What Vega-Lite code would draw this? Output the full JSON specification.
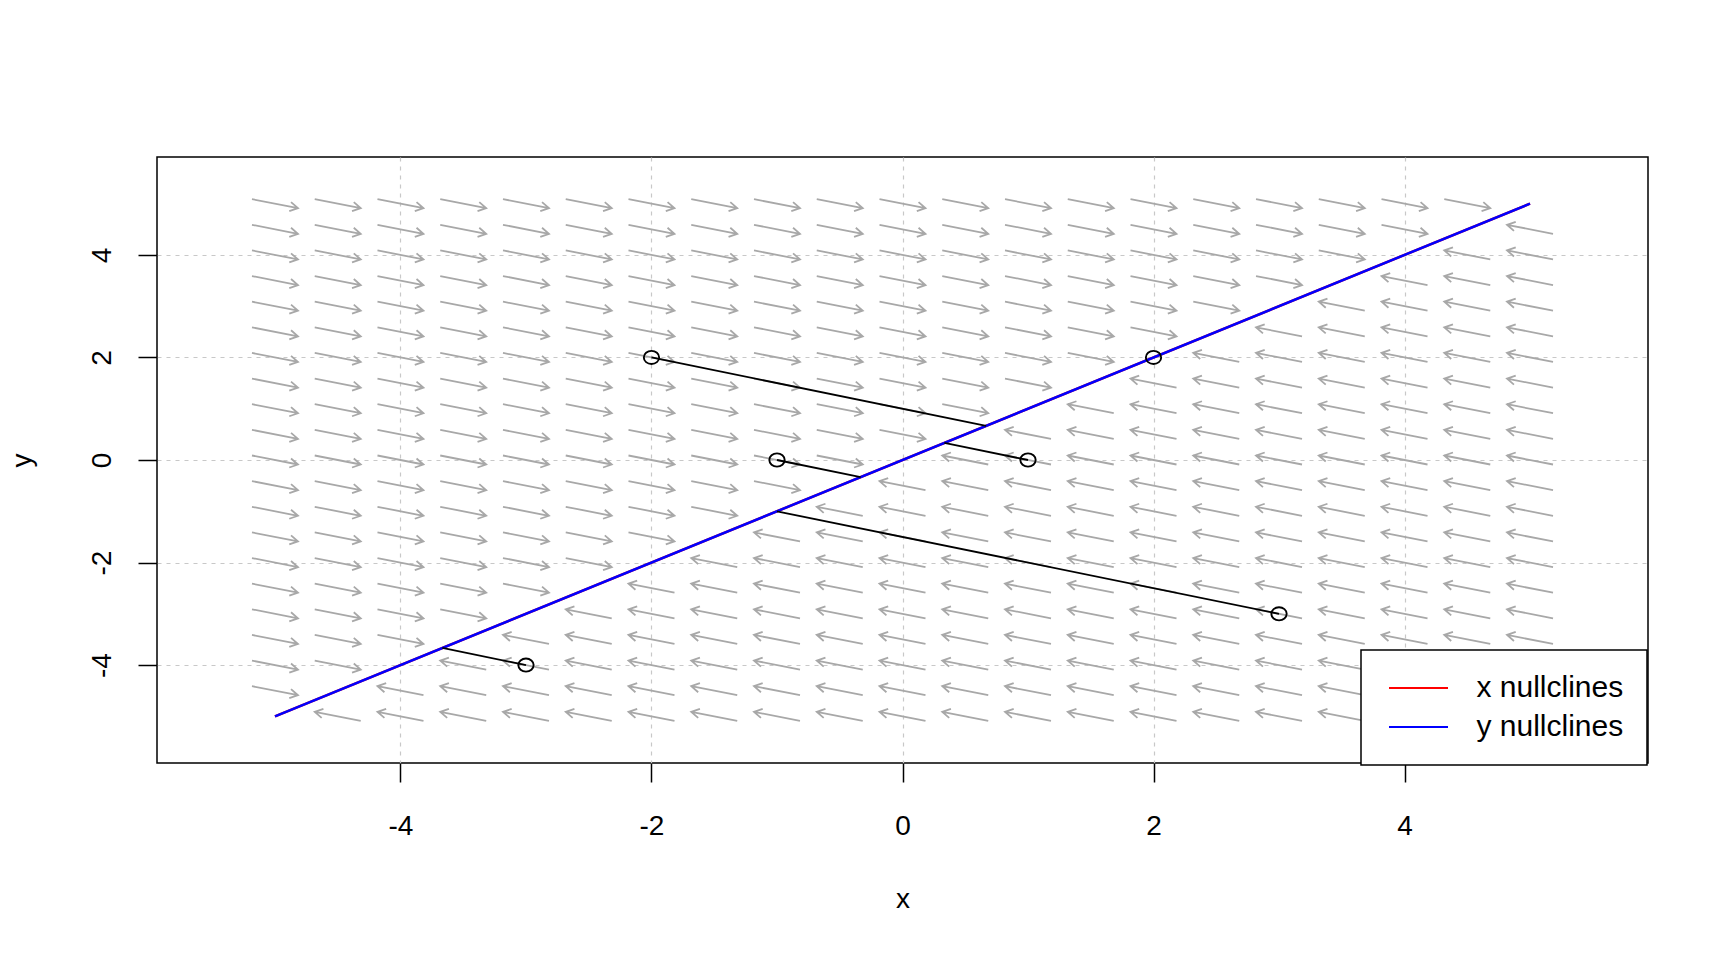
{
"$schema": "https://vega.github.io/schema/vega-lite/v6.json",
"width": 1491,
"height": 606,
"autosize": {"type": "none"},
"padding": {"left": 157, "top": 157, "right": 80, "bottom": 197},
"background": "white",
"config": {
  "view": {"stroke": "black", "strokeWidth": 1.5},
  "font": "Liberation Sans",
  "axis": {"domain": false, "tickColor": "black", "tickSize": 19, "tickWidth": 1.5, "labelFont": "Liberation Sans", "labelFontSize": 28, "labelColor": "black", "titleFont": "Liberation Sans", "titleFontSize": 28, "titleFontWeight": "normal", "titleColor": "black", "grid": true, "gridColor": "#c8c8c8", "gridDash": [4, 5], "gridWidth": 1.2, "labelFlush": false, "labelOverlap": false, "zindex": 0},
  "legend": {"strokeWidth": 1.5}
},
"datasets": {
  "field": [
{"x":-5,"y":5,"d":"r"},{"x":-4.5,"y":5,"d":"r"},{"x":-4,"y":5,"d":"r"},{"x":-3.5,"y":5,"d":"r"},{"x":-3,"y":5,"d":"r"},{"x":-2.5,"y":5,"d":"r"},{"x":-2,"y":5,"d":"r"},{"x":-1.5,"y":5,"d":"r"},{"x":-1,"y":5,"d":"r"},{"x":-0.5,"y":5,"d":"r"},{"x":0,"y":5,"d":"r"},{"x":0.5,"y":5,"d":"r"},{"x":1,"y":5,"d":"r"},{"x":1.5,"y":5,"d":"r"},{"x":2,"y":5,"d":"r"},{"x":2.5,"y":5,"d":"r"},{"x":3,"y":5,"d":"r"},{"x":3.5,"y":5,"d":"r"},{"x":4,"y":5,"d":"r"},{"x":4.5,"y":5,"d":"r"},
{"x":-5,"y":4.5,"d":"r"},{"x":-4.5,"y":4.5,"d":"r"},{"x":-4,"y":4.5,"d":"r"},{"x":-3.5,"y":4.5,"d":"r"},{"x":-3,"y":4.5,"d":"r"},{"x":-2.5,"y":4.5,"d":"r"},{"x":-2,"y":4.5,"d":"r"},{"x":-1.5,"y":4.5,"d":"r"},{"x":-1,"y":4.5,"d":"r"},{"x":-0.5,"y":4.5,"d":"r"},{"x":0,"y":4.5,"d":"r"},{"x":0.5,"y":4.5,"d":"r"},{"x":1,"y":4.5,"d":"r"},{"x":1.5,"y":4.5,"d":"r"},{"x":2,"y":4.5,"d":"r"},{"x":2.5,"y":4.5,"d":"r"},{"x":3,"y":4.5,"d":"r"},{"x":3.5,"y":4.5,"d":"r"},{"x":4,"y":4.5,"d":"r"},{"x":5,"y":4.5,"d":"l"},
{"x":-5,"y":4,"d":"r"},{"x":-4.5,"y":4,"d":"r"},{"x":-4,"y":4,"d":"r"},{"x":-3.5,"y":4,"d":"r"},{"x":-3,"y":4,"d":"r"},{"x":-2.5,"y":4,"d":"r"},{"x":-2,"y":4,"d":"r"},{"x":-1.5,"y":4,"d":"r"},{"x":-1,"y":4,"d":"r"},{"x":-0.5,"y":4,"d":"r"},{"x":0,"y":4,"d":"r"},{"x":0.5,"y":4,"d":"r"},{"x":1,"y":4,"d":"r"},{"x":1.5,"y":4,"d":"r"},{"x":2,"y":4,"d":"r"},{"x":2.5,"y":4,"d":"r"},{"x":3,"y":4,"d":"r"},{"x":3.5,"y":4,"d":"r"},{"x":4.5,"y":4,"d":"l"},{"x":5,"y":4,"d":"l"},
{"x":-5,"y":3.5,"d":"r"},{"x":-4.5,"y":3.5,"d":"r"},{"x":-4,"y":3.5,"d":"r"},{"x":-3.5,"y":3.5,"d":"r"},{"x":-3,"y":3.5,"d":"r"},{"x":-2.5,"y":3.5,"d":"r"},{"x":-2,"y":3.5,"d":"r"},{"x":-1.5,"y":3.5,"d":"r"},{"x":-1,"y":3.5,"d":"r"},{"x":-0.5,"y":3.5,"d":"r"},{"x":0,"y":3.5,"d":"r"},{"x":0.5,"y":3.5,"d":"r"},{"x":1,"y":3.5,"d":"r"},{"x":1.5,"y":3.5,"d":"r"},{"x":2,"y":3.5,"d":"r"},{"x":2.5,"y":3.5,"d":"r"},{"x":3,"y":3.5,"d":"r"},{"x":4,"y":3.5,"d":"l"},{"x":4.5,"y":3.5,"d":"l"},{"x":5,"y":3.5,"d":"l"},
{"x":-5,"y":3,"d":"r"},{"x":-4.5,"y":3,"d":"r"},{"x":-4,"y":3,"d":"r"},{"x":-3.5,"y":3,"d":"r"},{"x":-3,"y":3,"d":"r"},{"x":-2.5,"y":3,"d":"r"},{"x":-2,"y":3,"d":"r"},{"x":-1.5,"y":3,"d":"r"},{"x":-1,"y":3,"d":"r"},{"x":-0.5,"y":3,"d":"r"},{"x":0,"y":3,"d":"r"},{"x":0.5,"y":3,"d":"r"},{"x":1,"y":3,"d":"r"},{"x":1.5,"y":3,"d":"r"},{"x":2,"y":3,"d":"r"},{"x":2.5,"y":3,"d":"r"},{"x":3.5,"y":3,"d":"l"},{"x":4,"y":3,"d":"l"},{"x":4.5,"y":3,"d":"l"},{"x":5,"y":3,"d":"l"},
{"x":-5,"y":2.5,"d":"r"},{"x":-4.5,"y":2.5,"d":"r"},{"x":-4,"y":2.5,"d":"r"},{"x":-3.5,"y":2.5,"d":"r"},{"x":-3,"y":2.5,"d":"r"},{"x":-2.5,"y":2.5,"d":"r"},{"x":-2,"y":2.5,"d":"r"},{"x":-1.5,"y":2.5,"d":"r"},{"x":-1,"y":2.5,"d":"r"},{"x":-0.5,"y":2.5,"d":"r"},{"x":0,"y":2.5,"d":"r"},{"x":0.5,"y":2.5,"d":"r"},{"x":1,"y":2.5,"d":"r"},{"x":1.5,"y":2.5,"d":"r"},{"x":2,"y":2.5,"d":"r"},{"x":3,"y":2.5,"d":"l"},{"x":3.5,"y":2.5,"d":"l"},{"x":4,"y":2.5,"d":"l"},{"x":4.5,"y":2.5,"d":"l"},{"x":5,"y":2.5,"d":"l"},
{"x":-5,"y":2,"d":"r"},{"x":-4.5,"y":2,"d":"r"},{"x":-4,"y":2,"d":"r"},{"x":-3.5,"y":2,"d":"r"},{"x":-3,"y":2,"d":"r"},{"x":-2.5,"y":2,"d":"r"},{"x":-2,"y":2,"d":"r"},{"x":-1.5,"y":2,"d":"r"},{"x":-1,"y":2,"d":"r"},{"x":-0.5,"y":2,"d":"r"},{"x":0,"y":2,"d":"r"},{"x":0.5,"y":2,"d":"r"},{"x":1,"y":2,"d":"r"},{"x":1.5,"y":2,"d":"r"},{"x":2.5,"y":2,"d":"l"},{"x":3,"y":2,"d":"l"},{"x":3.5,"y":2,"d":"l"},{"x":4,"y":2,"d":"l"},{"x":4.5,"y":2,"d":"l"},{"x":5,"y":2,"d":"l"},
{"x":-5,"y":1.5,"d":"r"},{"x":-4.5,"y":1.5,"d":"r"},{"x":-4,"y":1.5,"d":"r"},{"x":-3.5,"y":1.5,"d":"r"},{"x":-3,"y":1.5,"d":"r"},{"x":-2.5,"y":1.5,"d":"r"},{"x":-2,"y":1.5,"d":"r"},{"x":-1.5,"y":1.5,"d":"r"},{"x":-1,"y":1.5,"d":"r"},{"x":-0.5,"y":1.5,"d":"r"},{"x":0,"y":1.5,"d":"r"},{"x":0.5,"y":1.5,"d":"r"},{"x":1,"y":1.5,"d":"r"},{"x":2,"y":1.5,"d":"l"},{"x":2.5,"y":1.5,"d":"l"},{"x":3,"y":1.5,"d":"l"},{"x":3.5,"y":1.5,"d":"l"},{"x":4,"y":1.5,"d":"l"},{"x":4.5,"y":1.5,"d":"l"},{"x":5,"y":1.5,"d":"l"},
{"x":-5,"y":1,"d":"r"},{"x":-4.5,"y":1,"d":"r"},{"x":-4,"y":1,"d":"r"},{"x":-3.5,"y":1,"d":"r"},{"x":-3,"y":1,"d":"r"},{"x":-2.5,"y":1,"d":"r"},{"x":-2,"y":1,"d":"r"},{"x":-1.5,"y":1,"d":"r"},{"x":-1,"y":1,"d":"r"},{"x":-0.5,"y":1,"d":"r"},{"x":0,"y":1,"d":"r"},{"x":0.5,"y":1,"d":"r"},{"x":1.5,"y":1,"d":"l"},{"x":2,"y":1,"d":"l"},{"x":2.5,"y":1,"d":"l"},{"x":3,"y":1,"d":"l"},{"x":3.5,"y":1,"d":"l"},{"x":4,"y":1,"d":"l"},{"x":4.5,"y":1,"d":"l"},{"x":5,"y":1,"d":"l"},
{"x":-5,"y":0.5,"d":"r"},{"x":-4.5,"y":0.5,"d":"r"},{"x":-4,"y":0.5,"d":"r"},{"x":-3.5,"y":0.5,"d":"r"},{"x":-3,"y":0.5,"d":"r"},{"x":-2.5,"y":0.5,"d":"r"},{"x":-2,"y":0.5,"d":"r"},{"x":-1.5,"y":0.5,"d":"r"},{"x":-1,"y":0.5,"d":"r"},{"x":-0.5,"y":0.5,"d":"r"},{"x":0,"y":0.5,"d":"r"},{"x":1,"y":0.5,"d":"l"},{"x":1.5,"y":0.5,"d":"l"},{"x":2,"y":0.5,"d":"l"},{"x":2.5,"y":0.5,"d":"l"},{"x":3,"y":0.5,"d":"l"},{"x":3.5,"y":0.5,"d":"l"},{"x":4,"y":0.5,"d":"l"},{"x":4.5,"y":0.5,"d":"l"},{"x":5,"y":0.5,"d":"l"},
{"x":-5,"y":0,"d":"r"},{"x":-4.5,"y":0,"d":"r"},{"x":-4,"y":0,"d":"r"},{"x":-3.5,"y":0,"d":"r"},{"x":-3,"y":0,"d":"r"},{"x":-2.5,"y":0,"d":"r"},{"x":-2,"y":0,"d":"r"},{"x":-1.5,"y":0,"d":"r"},{"x":-1,"y":0,"d":"r"},{"x":-0.5,"y":0,"d":"r"},{"x":0.5,"y":0,"d":"l"},{"x":1,"y":0,"d":"l"},{"x":1.5,"y":0,"d":"l"},{"x":2,"y":0,"d":"l"},{"x":2.5,"y":0,"d":"l"},{"x":3,"y":0,"d":"l"},{"x":3.5,"y":0,"d":"l"},{"x":4,"y":0,"d":"l"},{"x":4.5,"y":0,"d":"l"},{"x":5,"y":0,"d":"l"},
{"x":-5,"y":-0.5,"d":"r"},{"x":-4.5,"y":-0.5,"d":"r"},{"x":-4,"y":-0.5,"d":"r"},{"x":-3.5,"y":-0.5,"d":"r"},{"x":-3,"y":-0.5,"d":"r"},{"x":-2.5,"y":-0.5,"d":"r"},{"x":-2,"y":-0.5,"d":"r"},{"x":-1.5,"y":-0.5,"d":"r"},{"x":-1,"y":-0.5,"d":"r"},{"x":0,"y":-0.5,"d":"l"},{"x":0.5,"y":-0.5,"d":"l"},{"x":1,"y":-0.5,"d":"l"},{"x":1.5,"y":-0.5,"d":"l"},{"x":2,"y":-0.5,"d":"l"},{"x":2.5,"y":-0.5,"d":"l"},{"x":3,"y":-0.5,"d":"l"},{"x":3.5,"y":-0.5,"d":"l"},{"x":4,"y":-0.5,"d":"l"},{"x":4.5,"y":-0.5,"d":"l"},{"x":5,"y":-0.5,"d":"l"},
{"x":-5,"y":-1,"d":"r"},{"x":-4.5,"y":-1,"d":"r"},{"x":-4,"y":-1,"d":"r"},{"x":-3.5,"y":-1,"d":"r"},{"x":-3,"y":-1,"d":"r"},{"x":-2.5,"y":-1,"d":"r"},{"x":-2,"y":-1,"d":"r"},{"x":-1.5,"y":-1,"d":"r"},{"x":-0.5,"y":-1,"d":"l"},{"x":0,"y":-1,"d":"l"},{"x":0.5,"y":-1,"d":"l"},{"x":1,"y":-1,"d":"l"},{"x":1.5,"y":-1,"d":"l"},{"x":2,"y":-1,"d":"l"},{"x":2.5,"y":-1,"d":"l"},{"x":3,"y":-1,"d":"l"},{"x":3.5,"y":-1,"d":"l"},{"x":4,"y":-1,"d":"l"},{"x":4.5,"y":-1,"d":"l"},{"x":5,"y":-1,"d":"l"},
{"x":-5,"y":-1.5,"d":"r"},{"x":-4.5,"y":-1.5,"d":"r"},{"x":-4,"y":-1.5,"d":"r"},{"x":-3.5,"y":-1.5,"d":"r"},{"x":-3,"y":-1.5,"d":"r"},{"x":-2.5,"y":-1.5,"d":"r"},{"x":-2,"y":-1.5,"d":"r"},{"x":-1,"y":-1.5,"d":"l"},{"x":-0.5,"y":-1.5,"d":"l"},{"x":0,"y":-1.5,"d":"l"},{"x":0.5,"y":-1.5,"d":"l"},{"x":1,"y":-1.5,"d":"l"},{"x":1.5,"y":-1.5,"d":"l"},{"x":2,"y":-1.5,"d":"l"},{"x":2.5,"y":-1.5,"d":"l"},{"x":3,"y":-1.5,"d":"l"},{"x":3.5,"y":-1.5,"d":"l"},{"x":4,"y":-1.5,"d":"l"},{"x":4.5,"y":-1.5,"d":"l"},{"x":5,"y":-1.5,"d":"l"},
{"x":-5,"y":-2,"d":"r"},{"x":-4.5,"y":-2,"d":"r"},{"x":-4,"y":-2,"d":"r"},{"x":-3.5,"y":-2,"d":"r"},{"x":-3,"y":-2,"d":"r"},{"x":-2.5,"y":-2,"d":"r"},{"x":-1.5,"y":-2,"d":"l"},{"x":-1,"y":-2,"d":"l"},{"x":-0.5,"y":-2,"d":"l"},{"x":0,"y":-2,"d":"l"},{"x":0.5,"y":-2,"d":"l"},{"x":1,"y":-2,"d":"l"},{"x":1.5,"y":-2,"d":"l"},{"x":2,"y":-2,"d":"l"},{"x":2.5,"y":-2,"d":"l"},{"x":3,"y":-2,"d":"l"},{"x":3.5,"y":-2,"d":"l"},{"x":4,"y":-2,"d":"l"},{"x":4.5,"y":-2,"d":"l"},{"x":5,"y":-2,"d":"l"},
{"x":-5,"y":-2.5,"d":"r"},{"x":-4.5,"y":-2.5,"d":"r"},{"x":-4,"y":-2.5,"d":"r"},{"x":-3.5,"y":-2.5,"d":"r"},{"x":-3,"y":-2.5,"d":"r"},{"x":-2,"y":-2.5,"d":"l"},{"x":-1.5,"y":-2.5,"d":"l"},{"x":-1,"y":-2.5,"d":"l"},{"x":-0.5,"y":-2.5,"d":"l"},{"x":0,"y":-2.5,"d":"l"},{"x":0.5,"y":-2.5,"d":"l"},{"x":1,"y":-2.5,"d":"l"},{"x":1.5,"y":-2.5,"d":"l"},{"x":2,"y":-2.5,"d":"l"},{"x":2.5,"y":-2.5,"d":"l"},{"x":3,"y":-2.5,"d":"l"},{"x":3.5,"y":-2.5,"d":"l"},{"x":4,"y":-2.5,"d":"l"},{"x":4.5,"y":-2.5,"d":"l"},{"x":5,"y":-2.5,"d":"l"},
{"x":-5,"y":-3,"d":"r"},{"x":-4.5,"y":-3,"d":"r"},{"x":-4,"y":-3,"d":"r"},{"x":-3.5,"y":-3,"d":"r"},{"x":-2.5,"y":-3,"d":"l"},{"x":-2,"y":-3,"d":"l"},{"x":-1.5,"y":-3,"d":"l"},{"x":-1,"y":-3,"d":"l"},{"x":-0.5,"y":-3,"d":"l"},{"x":0,"y":-3,"d":"l"},{"x":0.5,"y":-3,"d":"l"},{"x":1,"y":-3,"d":"l"},{"x":1.5,"y":-3,"d":"l"},{"x":2,"y":-3,"d":"l"},{"x":2.5,"y":-3,"d":"l"},{"x":3,"y":-3,"d":"l"},{"x":3.5,"y":-3,"d":"l"},{"x":4,"y":-3,"d":"l"},{"x":4.5,"y":-3,"d":"l"},{"x":5,"y":-3,"d":"l"},
{"x":-5,"y":-3.5,"d":"r"},{"x":-4.5,"y":-3.5,"d":"r"},{"x":-4,"y":-3.5,"d":"r"},{"x":-3,"y":-3.5,"d":"l"},{"x":-2.5,"y":-3.5,"d":"l"},{"x":-2,"y":-3.5,"d":"l"},{"x":-1.5,"y":-3.5,"d":"l"},{"x":-1,"y":-3.5,"d":"l"},{"x":-0.5,"y":-3.5,"d":"l"},{"x":0,"y":-3.5,"d":"l"},{"x":0.5,"y":-3.5,"d":"l"},{"x":1,"y":-3.5,"d":"l"},{"x":1.5,"y":-3.5,"d":"l"},{"x":2,"y":-3.5,"d":"l"},{"x":2.5,"y":-3.5,"d":"l"},{"x":3,"y":-3.5,"d":"l"},{"x":3.5,"y":-3.5,"d":"l"},{"x":4,"y":-3.5,"d":"l"},{"x":4.5,"y":-3.5,"d":"l"},{"x":5,"y":-3.5,"d":"l"},
{"x":-5,"y":-4,"d":"r"},{"x":-4.5,"y":-4,"d":"r"},{"x":-3.5,"y":-4,"d":"l"},{"x":-3,"y":-4,"d":"l"},{"x":-2.5,"y":-4,"d":"l"},{"x":-2,"y":-4,"d":"l"},{"x":-1.5,"y":-4,"d":"l"},{"x":-1,"y":-4,"d":"l"},{"x":-0.5,"y":-4,"d":"l"},{"x":0,"y":-4,"d":"l"},{"x":0.5,"y":-4,"d":"l"},{"x":1,"y":-4,"d":"l"},{"x":1.5,"y":-4,"d":"l"},{"x":2,"y":-4,"d":"l"},{"x":2.5,"y":-4,"d":"l"},{"x":3,"y":-4,"d":"l"},{"x":3.5,"y":-4,"d":"l"},{"x":4,"y":-4,"d":"l"},{"x":4.5,"y":-4,"d":"l"},{"x":5,"y":-4,"d":"l"},
{"x":-5,"y":-4.5,"d":"r"},{"x":-4,"y":-4.5,"d":"l"},{"x":-3.5,"y":-4.5,"d":"l"},{"x":-3,"y":-4.5,"d":"l"},{"x":-2.5,"y":-4.5,"d":"l"},{"x":-2,"y":-4.5,"d":"l"},{"x":-1.5,"y":-4.5,"d":"l"},{"x":-1,"y":-4.5,"d":"l"},{"x":-0.5,"y":-4.5,"d":"l"},{"x":0,"y":-4.5,"d":"l"},{"x":0.5,"y":-4.5,"d":"l"},{"x":1,"y":-4.5,"d":"l"},{"x":1.5,"y":-4.5,"d":"l"},{"x":2,"y":-4.5,"d":"l"},{"x":2.5,"y":-4.5,"d":"l"},{"x":3,"y":-4.5,"d":"l"},{"x":3.5,"y":-4.5,"d":"l"},{"x":4,"y":-4.5,"d":"l"},{"x":4.5,"y":-4.5,"d":"l"},{"x":5,"y":-4.5,"d":"l"},
{"x":-4.5,"y":-5,"d":"l"},{"x":-4,"y":-5,"d":"l"},{"x":-3.5,"y":-5,"d":"l"},{"x":-3,"y":-5,"d":"l"},{"x":-2.5,"y":-5,"d":"l"},{"x":-2,"y":-5,"d":"l"},{"x":-1.5,"y":-5,"d":"l"},{"x":-1,"y":-5,"d":"l"},{"x":-0.5,"y":-5,"d":"l"},{"x":0,"y":-5,"d":"l"},{"x":0.5,"y":-5,"d":"l"},{"x":1,"y":-5,"d":"l"},{"x":1.5,"y":-5,"d":"l"},{"x":2,"y":-5,"d":"l"},{"x":2.5,"y":-5,"d":"l"},{"x":3,"y":-5,"d":"l"},{"x":3.5,"y":-5,"d":"l"},{"x":4,"y":-5,"d":"l"},{"x":4.5,"y":-5,"d":"l"},{"x":5,"y":-5,"d":"l"}
  ],
  "nullclines": [
    {"x": -5, "y": -5, "n": "x nullclines"}, {"x": 5, "y": 5, "n": "x nullclines"},
    {"x": -5, "y": -5, "n": "y nullclines"}, {"x": 5, "y": 5, "n": "y nullclines"}
  ],
  "traj": [
    {"id": 1, "o": 0, "x": -2, "y": 2}, {"id": 1, "o": 1, "x": 0.6667, "y": 0.6667},
    {"id": 2, "o": 0, "x": 1, "y": 0}, {"id": 2, "o": 1, "x": 0.3333, "y": 0.3333},
    {"id": 3, "o": 0, "x": -1, "y": 0}, {"id": 3, "o": 1, "x": -0.3333, "y": -0.3333},
    {"id": 4, "o": 0, "x": 3, "y": -3}, {"id": 4, "o": 1, "x": -1, "y": -1},
    {"id": 5, "o": 0, "x": -3, "y": -4}, {"id": 5, "o": 1, "x": -3.6667, "y": -3.6667}
  ],
  "starts": [
    {"x": -2, "y": 2}, {"x": 1, "y": 0}, {"x": -1, "y": 0}, {"x": 3, "y": -3}, {"x": -3, "y": -4}, {"x": 2, "y": 2}
  ]
},
"layer": [
  {
    "data": {"name": "field"},
    "mark": {"type": "point", "filled": false, "color": "#a8a8a8", "strokeWidth": 1.8, "opacity": 1, "size": 2116},
    "encoding": {
      "x": {"field": "x", "type": "quantitative", "scale": {"domain": [-5.94, 5.94], "nice": false, "zero": false},
            "axis": {"values": [-4, -2, 0, 2, 4], "title": "x", "labelExpr": "'' + datum.value", "labelBaseline": "middle", "labelPadding": 44, "titleY": 136, "titleBaseline": "middle"}},
      "y": {"field": "y", "type": "quantitative", "scale": {"domain": [-5.91, 5.91], "nice": false, "zero": false},
            "axis": {"values": [-4, -2, 0, 2, 4], "title": "y", "labelExpr": "'' + datum.value", "labelAngle": 270, "labelAlign": "center", "labelBaseline": "middle", "labelPadding": 36, "titleX": -135, "titleAngle": 270, "titleAlign": "center", "titleBaseline": "middle"}},
      "shape": {"field": "d", "type": "nominal", "legend": null,
                "scale": {"domain": ["r", "l"], "range": ["M-1,-0.196L1,0.196M0.698,-0.067L1,0.196L0.622,0.326", "M1,0.196L-1,-0.196M-0.698,0.067L-1,-0.196L-0.622,-0.326"]}}
    }
  },
  {
    "data": {"name": "nullclines"},
    "mark": {"type": "line", "strokeWidth": 2.5},
    "encoding": {
      "x": {"field": "x", "type": "quantitative"},
      "y": {"field": "y", "type": "quantitative"},
      "color": {"field": "n", "type": "nominal",
                "scale": {"domain": ["x nullclines", "y nullclines"], "range": ["#ff0000", "#0000ff"]},
                "legend": {"title": null, "orient": "none", "legendX": 1204, "legendY": 493, "padding": 23, "strokeColor": "black", "fillColor": "white", "symbolType": "M-2.95,0H2.95", "symbolSize": 400, "symbolStrokeWidth": 2, "symbolOffset": 19.5, "labelOffset": 43, "labelFontSize": 30, "labelFont": "Liberation Sans", "labelColor": "black", "rowPadding": 9}}
    }
  },
  {
    "data": {"name": "traj"},
    "mark": {"type": "line", "color": "black", "strokeWidth": 1.8},
    "encoding": {
      "x": {"field": "x", "type": "quantitative"},
      "y": {"field": "y", "type": "quantitative"},
      "detail": {"field": "id", "type": "nominal"},
      "order": {"field": "o", "type": "quantitative"}
    }
  },
  {
    "data": {"name": "starts"},
    "mark": {"type": "point", "shape": "M-1,0A1,0.86,0,1,0,1,0A1,0.86,0,1,0,-1,0Z", "filled": false, "color": "black", "strokeWidth": 1.9, "size": 235, "opacity": 1},
    "encoding": {
      "x": {"field": "x", "type": "quantitative"},
      "y": {"field": "y", "type": "quantitative"}
    }
  }
]
}
